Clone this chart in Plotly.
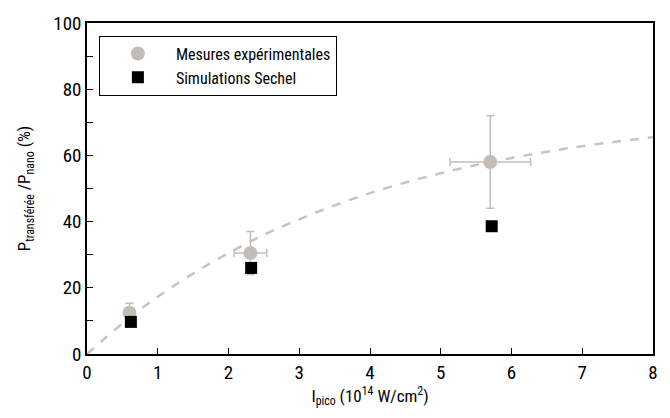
import plotly.graph_objects as go

# Data
exp_x = [0.6, 2.31, 5.7]
exp_y = [12.5, 30.5, 58.0]
exp_xerr = [0.0, 0.23, 0.57]
exp_yerr = [2.8, 6.5, 14.0]

sim_x = [0.62, 2.32, 5.72]
sim_y = [9.7, 26.0, 38.6]

fit_x = [0, 0.5, 1, 1.5, 2, 2.5, 3, 3.5, 4, 4.5, 5, 5.5, 6, 6.5, 7, 7.5, 8]
fit_y = [0, 9.2, 17.3, 24.3, 30.5, 36.0, 40.7, 44.9, 48.6, 51.8, 54.6, 57.1, 59.2, 61.1, 62.8, 64.2, 65.5]

x_ticks = [0, 1, 2, 3, 4, 5, 6, 7, 8]
y_ticks = [0, 20, 40, 60, 80, 100]

GREY = "#c3bdb8"
FONT = "Liberation Sans Narrow, Roboto Condensed, Open Sans, sans-serif"

fig = go.Figure()

fig.add_trace(go.Scatter(
    x=fit_x, y=fit_y, mode="lines", line=dict(color="#c8c4c0", width=2.5, dash="dash", shape="spline"),
    showlegend=False, hoverinfo="skip"))

fig.add_trace(go.Scatter(
    x=exp_x, y=exp_y, mode="markers", name="Mesures expérimentales",
    marker=dict(color=GREY, size=14, symbol="circle"),
    error_x=dict(type="data", array=exp_xerr, color=GREY, thickness=1.5, width=4),
    error_y=dict(type="data", array=exp_yerr, color=GREY, thickness=1.5, width=4)))

fig.add_trace(go.Scatter(
    x=sim_x, y=sim_y, mode="markers", name="Simulations Sechel",
    marker=dict(color="black", size=12, symbol="square")))

fig.update_layout(
    width=670, height=418,
    margin=dict(l=87, r=15, t=16, b=64),
    paper_bgcolor="white", plot_bgcolor="white",
    font=dict(family=FONT, size=16, color="black"),
    legend=dict(x=0.021, y=0.962, xanchor="left", yanchor="top",
                bordercolor="black", borderwidth=1, bgcolor="white",
                font=dict(size=16, family=FONT), itemwidth=66,
                tracegroupgap=4),
)

fig.update_xaxes(
    range=[0, 8], tickvals=x_ticks, ticks="inside", ticklen=6, tickcolor="black",
    showline=True, linecolor="black", linewidth=1.5, mirror=True, showgrid=False, zeroline=False,
    tickfont=dict(size=19),
    title=dict(text="I<sub>pico</sub> (10<sup>14</sup> W/cm<sup>2</sup>)", font=dict(size=17), standoff=6))

fig.update_yaxes(
    range=[0, 100], tickvals=y_ticks, ticks="inside", ticklen=6, tickcolor="black",
    minor=dict(dtick=10, tick0=0, ticks="inside", ticklen=6, tickcolor="black"),
    showline=True, linecolor="black", linewidth=1.5, mirror=True, showgrid=False, zeroline=False,
    tickfont=dict(size=19),
    title=dict(text="P<sub>transférée</sub> /P<sub>nano</sub> (%)", font=dict(size=17), standoff=18))

fig.write_html("out.html", config={"displayModeBar": False},
               post_script="document.body.style.margin='0';")
